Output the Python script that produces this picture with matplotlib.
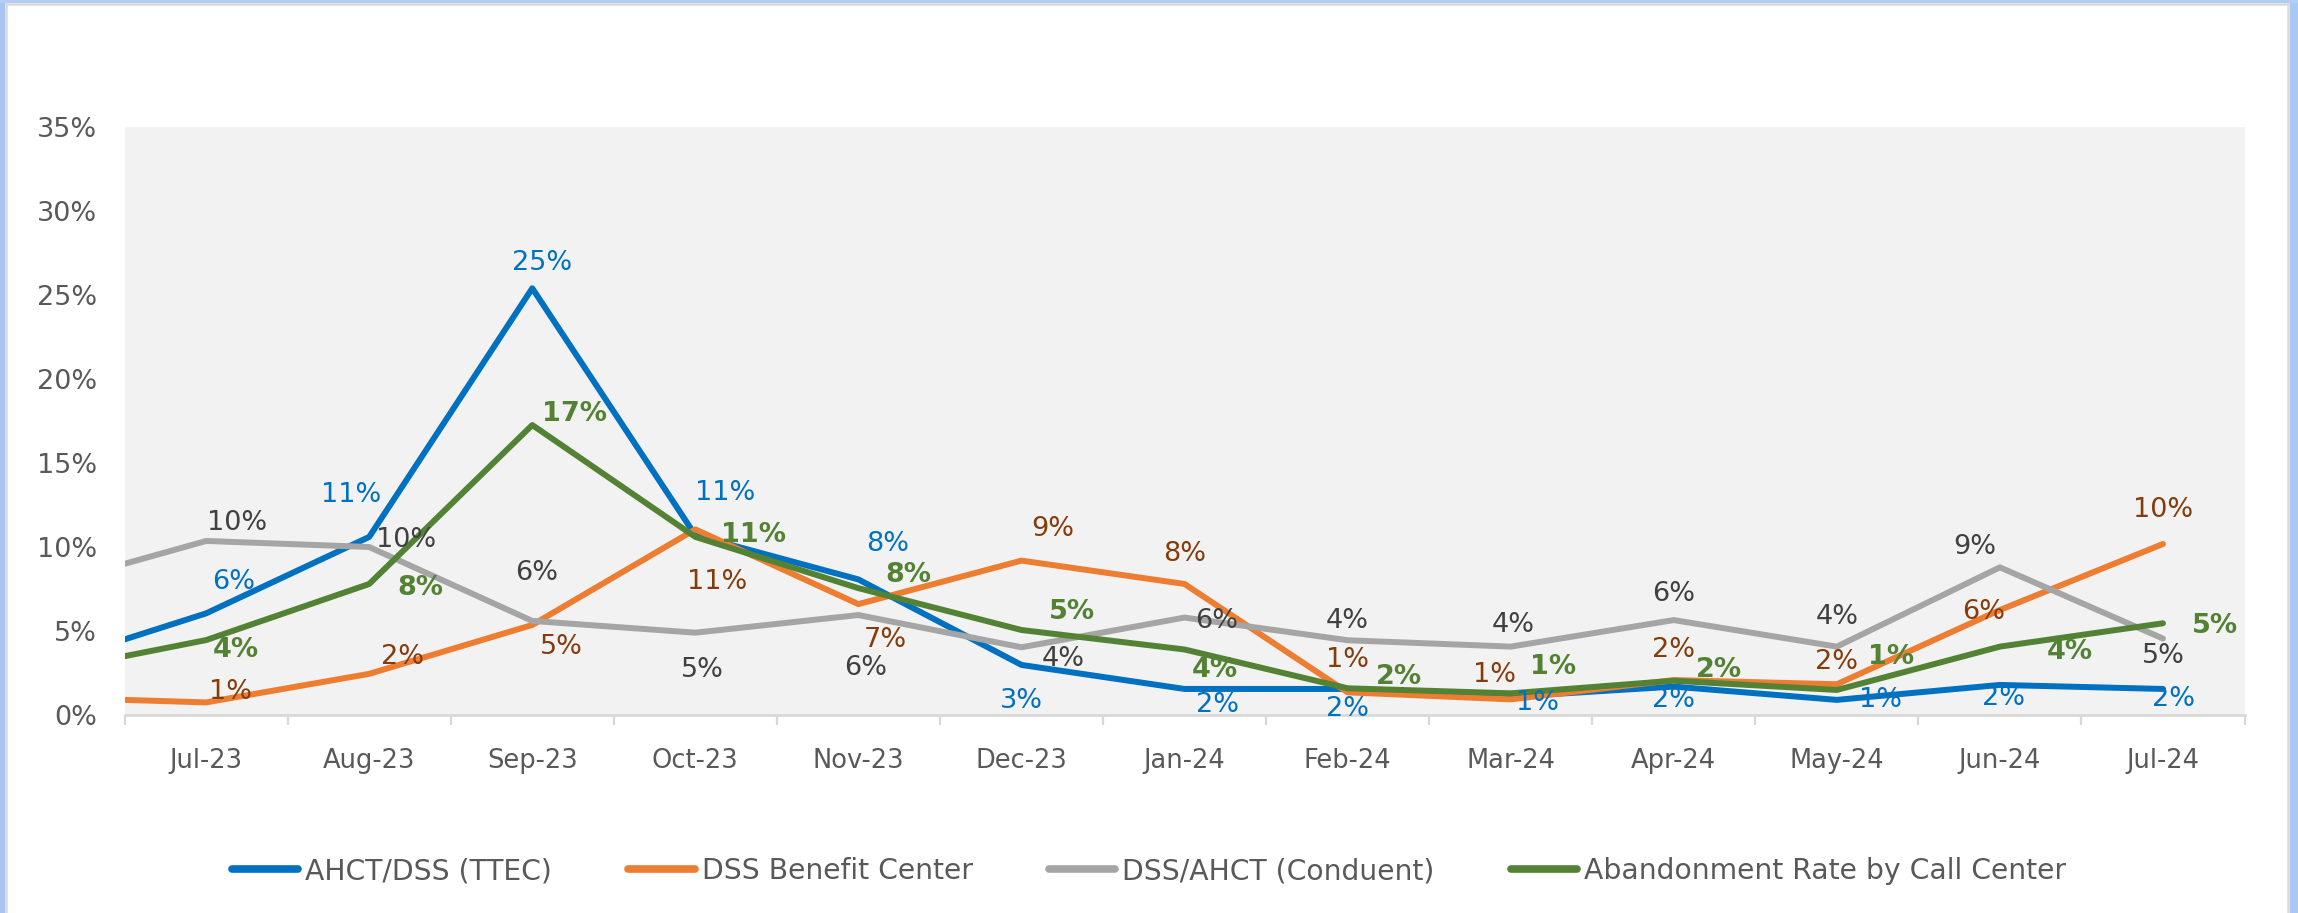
import matplotlib
matplotlib.use("Agg")
import matplotlib.pyplot as plt
from matplotlib.ticker import FixedLocator, PercentFormatter
from matplotlib.lines import Line2D
from matplotlib.patches import Rectangle

# ---------------- data ----------------
months = ["Jul-23", "Aug-23", "Sep-23", "Oct-23", "Nov-23", "Dec-23",
          "Jan-24", "Feb-24", "Mar-24", "Apr-24", "May-24", "Jun-24", "Jul-24"]

# prior month (Jun-23), only visible as the clipped lead-in segment
prior_month = {"ttec": 2.95, "dss": 1.05, "conduent": 7.64, "abandon": 2.54}

ttec = [6.05, 10.6, 25.4, 10.7, 8.07, 2.98, 1.55, 1.55, 1.09, 1.69, 0.9, 1.79, 1.55]
dss = [0.75, 2.45, 5.36, 11.05, 6.6, 9.19, 7.8, 1.35, 0.93, 2.08, 1.83, 6.25, 10.18]
conduent = [10.36, 10.0, 5.6, 4.9, 5.95, 4.03, 5.8, 4.45, 4.07, 5.65, 4.07, 8.79, 4.55]
abandon = [4.46, 7.8, 17.26, 10.6, 7.55, 5.06, 3.9, 1.59, 1.29, 2.04, 1.49, 4.07, 5.46]

series_names = ["AHCT/DSS (TTEC)", "DSS Benefit Center",
                "DSS/AHCT (Conduent)", "Abandonment Rate by Call Center"]

# ---------------- style / layout ----------------
line_colors = ["#0070C0", "#ED7D31", "#A5A5A5", "#548235"]
label_colors = ["#0070C0", "#843C0C", "#404040", "#548235"]
label_weights = ["normal", "normal", "normal", "bold"]

# data label offsets in pixels (dx right, dy down) from each point
offsets = {
    "ttec": [(27, -31), (-18, -42), (10, -25), (30, -42), (29, -35), (0, 36), (33, 16),
             (0, 20), (27, 6), (0, 13), (44, 0), (4, 13), (11, 10)],
    "dss": [(24, -10), (33, -17), (29, 22), (22, 53), (27, 36), (31, -32), (0, -30),
            (0, -32), (-16, -24), (0, -30), (0, -22), (-16, 2), (0, -34)],
    "conduent": [(31, -18), (37, -7), (4, -48), (7, 37), (7, 53), (42, 12), (32, 3),
                 (0, -19), (2, -22), (0, -26), (0, -30), (-25, -20), (0, 17)],
    "abandon": [(30, 10), (51, 4), (42, -11), (58, -2), (50, -13), (51, -18), (30, 21),
                (51, -11), (42, -26), (45, -11), (54, -33), (70, 5), (52, 3)],
}

W, H, DPI = 2298, 913, 100
fig = plt.figure(figsize=(W / DPI, H / DPI), dpi=DPI, facecolor="white")
plt.rcParams["font.family"] = ["DejaVu Sans"]

ax_l, ax_r, ax_b, ax_t = 124.6, 2244.5, 715, 127
ax = fig.add_axes([ax_l / W, 1 - ax_b / H, (ax_r - ax_l) / W, (ax_b - ax_t) / H])
ax.set_facecolor("#F2F2F2")

keys = ["ttec", "dss", "conduent", "abandon"]
data = {"ttec": ttec, "dss": dss, "conduent": conduent, "abandon": abandon}

x = list(range(len(months)))
px2pt = 72 / DPI
handles = []
for i, k in enumerate(keys):
    xs = [-1] + x
    ys = [prior_month[k]] + data[k]
    ax.plot(xs, ys, color=line_colors[i], lw=4.3, solid_capstyle="round",
            solid_joinstyle="round", zorder=3)
    handles.append(Line2D([0], [0], color=line_colors[i], lw=5.5, solid_capstyle="round"))
    for j, v in enumerate(data[k]):
        dx, dy = offsets[k][j]
        ax.annotate(f"{round(v)}%", (x[j], v), xytext=(dx * px2pt, -dy * px2pt),
                    textcoords="offset points", ha="center", va="center",
                    fontsize=19.5, color=label_colors[i], fontweight=label_weights[i],
                    zorder=5)

ax.set_xlim(-0.5, len(months) - 0.5)
ax.set_ylim(0, 35)

ax.yaxis.set_major_locator(FixedLocator([0, 5, 10, 15, 20, 25, 30, 35]))
ax.yaxis.set_major_formatter(PercentFormatter(decimals=0))
ax.tick_params(axis="y", length=0, pad=20, labelsize=19.5, labelcolor="#595959")

ax.set_xticks([i - 0.5 for i in range(len(months) + 1)])
ax.set_xticklabels([])
ax.set_xticks(x, minor=True)
ax.set_xticklabels(months, minor=True)
ax.tick_params(axis="x", which="major", length=7.5, width=1.6, color="#D9D9D9", direction="out")
ax.tick_params(axis="x", which="minor", length=0, pad=24, labelsize=18.5, labelcolor="#595959")

for s in ["top", "right", "left"]:
    ax.spines[s].set_visible(False)
ax.spines["bottom"].set_color("#D9D9D9")
ax.spines["bottom"].set_linewidth(2.0)
ax.grid(False)

fig.legend(handles, series_names, loc="center", bbox_to_anchor=(0.5, 1 - 871 / H),
           ncol=4, frameon=False, fontsize=20.3, handlelength=2.35, handletextpad=0.25,
           columnspacing=2.7, labelcolor="#595959")

# chart frame decorations (selection border of the screenshot)
fig.add_artist(Rectangle((0, 0), 5 / W, 1, transform=fig.transFigure,
                         facecolor="#A9C4F0", edgecolor="none"))
fig.add_artist(Rectangle((2290 / W, 0), 8 / W, 1, transform=fig.transFigure,
                         facecolor="#ABC8F5", edgecolor="none"))
fig.add_artist(Rectangle((0, 1 - 3 / H), 1, 3 / H, transform=fig.transFigure,
                         facecolor="#B4CDF3", edgecolor="none"))
fig.add_artist(Line2D([6 / W, 6 / W], [0, 1 - 4 / H], transform=fig.transFigure,
                      color="#D9D9D9", lw=1.8))
fig.add_artist(Line2D([2288 / W, 2288 / W], [0, 1 - 4 / H], transform=fig.transFigure,
                      color="#D9D9D9", lw=1.8))
fig.add_artist(Line2D([6 / W, 2288 / W], [1 - 4.5 / H, 1 - 4.5 / H], transform=fig.transFigure,
                      color="#D9D9D9", lw=1.8))

fig.savefig("out.png", dpi=DPI, facecolor="white")
